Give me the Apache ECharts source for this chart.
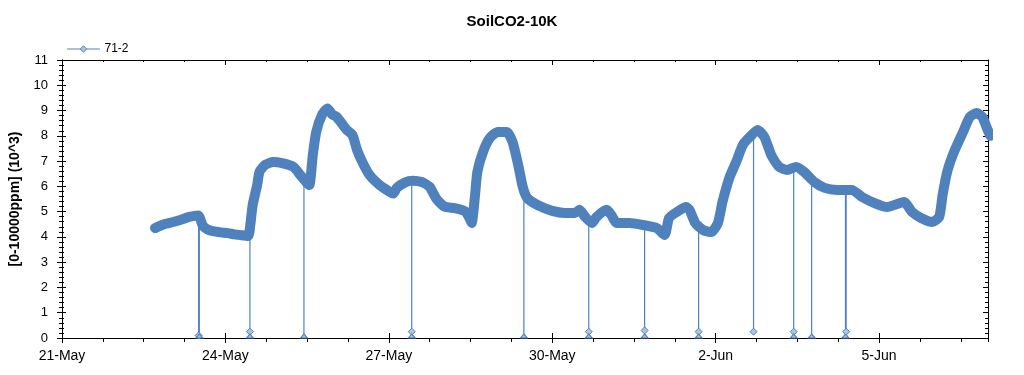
<!DOCTYPE html>
<html><head><meta charset="utf-8">
<script src="https://cdn.jsdelivr.net/npm/echarts@6/dist/echarts.min.js"></script>
<style>html,body{margin:0;padding:0;background:#fff}#c{width:1024px;height:375px}</style>
</head><body><div id="c"></div>
<script>
const chartTitle = 'SoilCO2-10K';
const seriesName = '71-2';
const yAxisName = '[0-10000ppm] (10^3)';
const xTickLabels = ['21-May','24-May','27-May','30-May','2-Jun','5-Jun'];
// hours since 21-May 00:00
const hours = [
  41,45,49,53,56,60,62,64,66.5,70,
  73,76,78,82,83,84,86,87,89.5,93,
  97,102,105,108,109,110.5,112,114.5,117,119,
  121,124,125.5,128,130,132.5,135.5,140,144.5,146,
  147.5,151,154.5,158.5,162,165,168.5,173,177.5,179.5,
  180.5,182,183,185.5,188.5,192,196,198.5,201,203,
  205,209.5,216,221.5,226,228,230.5,233.5,235.5,240,
  242,244.5,250,256,262,265.5,267.5,271,275,276.5,
  279,282.5,286,289,291,294,297,300,303,306.5,
  309.5,312.5,316,319.5,323.5,327,331.5,336,341.5,348,
  352.5,358,363.5,371,374.5,378.5,383.5,386.5,388,390,
  393,397,400,403,405.5,407.5,409
];
const co2 = [
  4.35,4.50,4.59,4.70,4.79,4.85,4.45,4.30,4.23,4.18,
  4.15,4.10,4.08,4.04,4.50,5.26,6.05,6.57,6.85,6.96,
  6.92,6.77,6.45,6.13,6.05,7.24,8.15,8.82,9.08,8.85,
  8.75,8.40,8.23,8.03,7.44,6.93,6.45,6.05,5.78,5.72,
  5.94,6.15,6.22,6.17,5.98,5.50,5.20,5.14,5.02,4.75,
  4.55,5.66,6.57,7.36,7.91,8.15,8.15,7.76,6.85,5.98,
  5.54,5.26,5.03,4.95,4.95,5.07,4.79,4.55,4.79,5.07,
  4.87,4.55,4.55,4.47,4.35,4.08,4.75,4.99,5.18,5.07,
  4.55,4.27,4.19,4.55,5.38,6.33,6.96,7.64,7.95,8.23,
  7.95,7.24,6.77,6.65,6.77,6.57,6.17,5.94,5.86,5.86,
  5.58,5.34,5.18,5.38,4.99,4.75,4.59,4.79,5.66,6.57,
  7.36,8.15,8.75,8.90,8.75,8.31,8.0
];
const dropHours = [60.2,60.5,82.8,106.6,154.1,203.5,232.1,256.7,280.5,304.7,322.4,330.3,345.2,345.5];
const dropTops  = [4.85,4.8,4.1,6.2,6.2,5.9,4.6,4.45,4.4,8.0,6.6,6.1,5.8,5.8];
const dropLows  = [[0.1],[0],[0.25,0],[0],[0.25,0],[0],[0.25,0],[0.3,0],[0.25,0],[0.25],[0.25,0],[0],[0],[0.25]];

const BLUE = '#4F81BD', LIGHT = '#B0C4DE', FONT = 'Liberation Sans, Arial, sans-serif';
const mainData = hours.map((h,i)=>[h, co2[i]]);
const dropData = [];
dropHours.forEach((h,i)=>{
  dropData.push({value:[h, dropTops[i]], symbol:'none'});
  dropLows[i].forEach(v=>{
    if (v === 0) dropData.push({value:[h,v], symbol:'triangle', symbolSize:[7,4], symbolOffset:[0,-2]});
    else dropData.push({value:[h,v]});
  });
  dropData.push({value:[h,'-']});
});

function xAx(pos, interval, inside, len, labels){
  return {type:'value', position:pos, min:0, max:408, interval:interval,
    axisLine:{show:true, onZero:false, lineStyle:{color:'#000', width:1}},
    axisTick:{show:true, inside:inside, length:len, lineStyle:{color:'#000'}},
    axisLabel:{show:labels, margin:11, color:'#000', fontSize:14, fontFamily:FONT,
      showMaxLabel:false, formatter:v=>{const k=Math.round(v/72); return (Math.abs(v-k*72)<0.01 && xTickLabels[k])?xTickLabels[k]:'';}},
    splitLine:{show:false}};
}
function yAx(pos, inside, len, mlen, labels){
  return {type:'value', position:pos, min:0, max:11, interval:1,
    name: labels ? yAxisName : '', nameLocation:'middle', nameGap:35, nameRotate:90,
    nameTextStyle:{fontWeight:'bold', fontSize:14, color:'#000', fontFamily:FONT},
    axisLine:{show:true, onZero:false, lineStyle:{color:'#000', width:1}},
    axisTick:{show:true, inside:inside, length:len, lineStyle:{color:'#000'}},
    minorTick:{show:true, splitNumber:5, length:mlen, lineStyle:{color:'#000'}},
    axisLabel:{show:labels, margin:14, color:'#000', fontSize:13, fontFamily:FONT},
    splitLine:{show:false}, minorSplitLine:{show:false}};
}

const chart = echarts.init(document.getElementById('c'), null, {renderer:'canvas'});
chart.setOption({
  animation:false,
  backgroundColor:'#fff',
  title:{text:chartTitle, left:'center', top:9, textStyle:{fontSize:15, fontWeight:'bold', color:'#000', fontFamily:FONT}},
  legend:{data:[seriesName], left:62, top:38, itemWidth:32, itemHeight:8, itemGap:10,
    textStyle:{fontSize:12, color:'#000', fontFamily:FONT},
    lineStyle:{width:1, color:BLUE}, itemStyle:{color:LIGHT, borderColor:BLUE, borderWidth:1}},
  grid:{left:62, right:36, top:60, bottom:37, containLabel:false},
  xAxis:[
    xAx('bottom',72,false,5,true),
    xAx('bottom',72,true,5,false),
    xAx('bottom',18,false,4,false),
    xAx('top',72,true,5,false),
    xAx('top',18,true,2,false)
  ],
  yAxis:[
    yAx('left',false,5,3,true),
    yAx('left',true,4,2,false),
    yAx('right',true,5,3,false)
  ],
  series:[
    {name:seriesName, type:'line', xAxisIndex:0, yAxisIndex:0, data:mainData,
      symbol:'diamond', symbolSize:7, showSymbol:false, clip:true,
      smooth:0.2,
      itemStyle:{color:LIGHT, borderColor:BLUE, borderWidth:1},
      lineStyle:{color:BLUE, width:10, join:'round', cap:'round'}, z:3},
    {name:'drops', type:'line', xAxisIndex:0, yAxisIndex:0, data:dropData,
      symbol:'diamond', symbolSize:7, showSymbol:true, connectNulls:false, clip:true,
      itemStyle:{color:LIGHT, borderColor:BLUE, borderWidth:1},
      lineStyle:{color:BLUE, width:1.2}, z:4}
  ]
});
</script></body></html>
